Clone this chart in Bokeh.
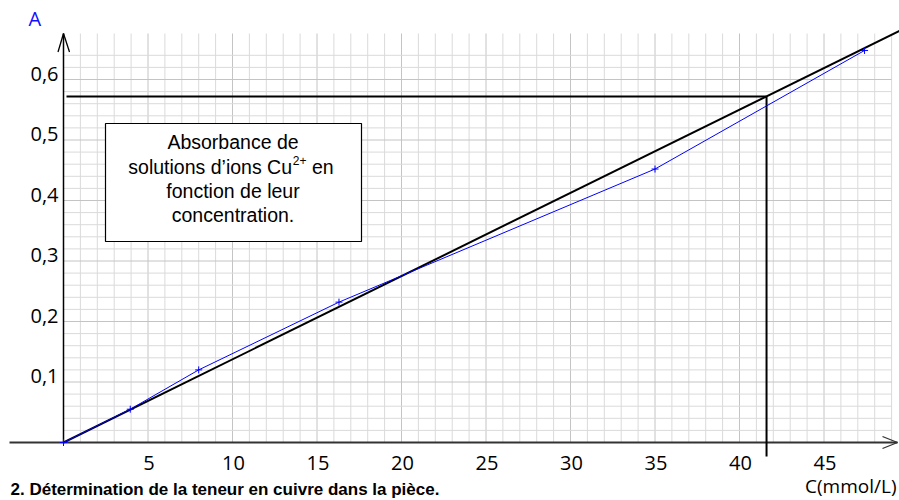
from bokeh.plotting import figure
from bokeh.models import Range1d
from bokeh.core.properties import value
from bokeh.embed import file_html
from bokeh.resources import INLINE

# ---------------- data ----------------
conc = [0, 3.95, 8, 16.3, 35, 47.4]          # C (mmol/L)
absorb = [0, 0.055, 0.12, 0.232, 0.452, 0.648]  # A
fit_c_end = 49.6
sample_a = 0.572
sample_c = 41.6
x_ticks = [5, 10, 15, 20, 25, 30, 35, 40, 45]
x_tick_labels = ["5", "10", "15", "20", "25", "30", "35", "40", "45"]
y_ticks = [0.1, 0.2, 0.3, 0.4, 0.5, 0.6]
y_tick_labels = ["0,1", "0,2", "0,3", "0,4", "0,5", "0,6"]
box_lines = ["Absorbance de", "solutions d\u2019ions Cu", "fonction de leur", "concentration."]

# ---------------- layout ----------------
W, H = 899, 500
SX, SY = 16.9, 605.0       # px per unit
OX, OY = 63, 442           # origin in px
x0 = -OX / SX
x1 = x0 + W / SX
y1 = OY / SY
y0 = y1 - H / SY
BL = 8  # baseline correction in px


def px(page_x):
    return (page_x - OX) / SX


def py(page_y):
    return (OY - page_y) / SY


def pyb(page_y):
    return (OY - (page_y - BL)) / SY


p = figure(width=W, height=H, x_range=Range1d(x0, x1), y_range=Range1d(y0, y1),
           x_axis_type=None, y_axis_type=None, toolbar_location=None,
           output_backend="svg", min_border=0, outline_line_color=None,
           background_fill_color="white", border_fill_color="white")
p.grid.visible = False

grid_top = py(33)
grid_right = 49
# vertical grid
vx = list(range(1, grid_right + 1))
p.segment(x0=[v for v in vx if v % 5], y0=0, x1=[v for v in vx if v % 5], y1=grid_top,
          line_color="#dadada", line_width=1)
p.segment(x0=[v for v in vx if not v % 5], y0=0, x1=[v for v in vx if not v % 5], y1=grid_top,
          line_color="#c4c4c4", line_width=1)
# horizontal grid
hy = [round(0.02 * i, 2) for i in range(1, 33)]
p.segment(x0=0, y0=[v for v in hy if round(v * 50) % 5], x1=grid_right,
          y1=[v for v in hy if round(v * 50) % 5], line_color="#dadada", line_width=1)
p.segment(x0=0, y0=[v for v in hy if not round(v * 50) % 5], x1=grid_right,
          y1=[v for v in hy if not round(v * 50) % 5], line_color="#c4c4c4", line_width=1)

# axes
p.segment(x0=px(9), y0=0, x1=px(897), y1=0, line_color="#333333", line_width=2)
p.segment(x0=[px(897), px(897)], y0=[0, 0], x1=[px(882), px(882)], y1=[6 / SY, -6 / SY],
          line_color="#333333", line_width=1.3)
p.segment(x0=0, y0=0, x1=0, y1=py(33), line_color="black", line_width=1.5)
p.segment(x0=[0, 0], y0=[py(33), py(33)], x1=[-5.5 / SX, 6 / SX], y1=[py(51.5), py(51.5)],
          line_color="black", line_width=1.3)

# tick labels
tick_font = value("Open Sans")
p.text(x=x_ticks, y=[py(455)] * len(x_ticks), text=x_tick_labels, text_font=tick_font,
       text_font_size=value("20px"), text_align="center", text_baseline="top",
       text_color="black", x_offset=1)
p.text(x=[px(58)] * len(y_ticks), y=y_ticks, text=y_tick_labels, text_font=tick_font,
       text_font_size=value("20px"), text_align="right", text_baseline="middle",
       text_color="black", y_offset=-6)
p.text(x=[px(28)], y=[pyb(25.5)], text=["A"], text_font=tick_font,
       text_font_size=value("20px"), text_align="left", text_baseline="alphabetic",
       text_color="#1010ff")
p.text(x=[px(896)], y=[pyb(493)], text=["C(mmol/L)"], text_font=tick_font,
       text_font_size=value("19px"), text_align="right", text_baseline="alphabetic",
       text_color="black")

# fitted line and reading lines
slope = sample_a / sample_c
p.line(x=[0, fit_c_end], y=[0, slope * fit_c_end], line_color="black", line_width=2)
p.line(x=[px(66), sample_c], y=[sample_a, sample_a], line_color="black", line_width=2)
p.line(x=[sample_c, sample_c], y=[sample_a, py(456)], line_color="black", line_width=2)

# measured data
p.line(x=conc, y=absorb, line_color="#0000ff", line_width=1)
p.scatter(x=conc, y=absorb, marker="cross", size=7, line_color="#0000ff", line_width=1)

# text box
p.quad(left=px(105), right=px(361), top=py(123), bottom=py(241),
       fill_color="white", line_color="black", line_width=1.2)
box_font = value("Liberation Sans")
cx = px(232.5)
p.text(x=[cx], y=[pyb(149)], text=[box_lines[0]], text_font=box_font,
       text_font_size=value("19.5px"), text_align="center", text_baseline="alphabetic",
       text_color="black")
p.text(x=[px(291.5)], y=[pyb(174)], text=[box_lines[1]], text_font=box_font,
       text_font_size=value("19.5px"), text_align="right", text_baseline="alphabetic",
       text_color="black")
p.text(x=[px(292.3)], y=[pyb(168)], text=["2+"], text_font=box_font,
       text_font_size=value("12px"), text_align="left", text_baseline="alphabetic",
       text_color="black")
p.text(x=[px(311.5)], y=[pyb(174)], text=["en"], text_font=box_font,
       text_font_size=value("19.5px"), text_align="left", text_baseline="alphabetic",
       text_color="black")
p.text(x=[cx, cx], y=[pyb(198.3), pyb(222)], text=box_lines[2:], text_font=box_font,
       text_font_size=value("19.5px"), text_align="center", text_baseline="alphabetic",
       text_color="black")

# caption
p.text(x=[px(10)], y=[pyb(497)], text=["2. D\u00e9termination de la teneur en cuivre dans la pi\u00e8ce."],
       text_font=box_font, text_font_size=value("17px"), text_font_style="bold",
       text_align="left", text_baseline="alphabetic", text_color="black")

open("out.html", "w").write(file_html(p, INLINE))
